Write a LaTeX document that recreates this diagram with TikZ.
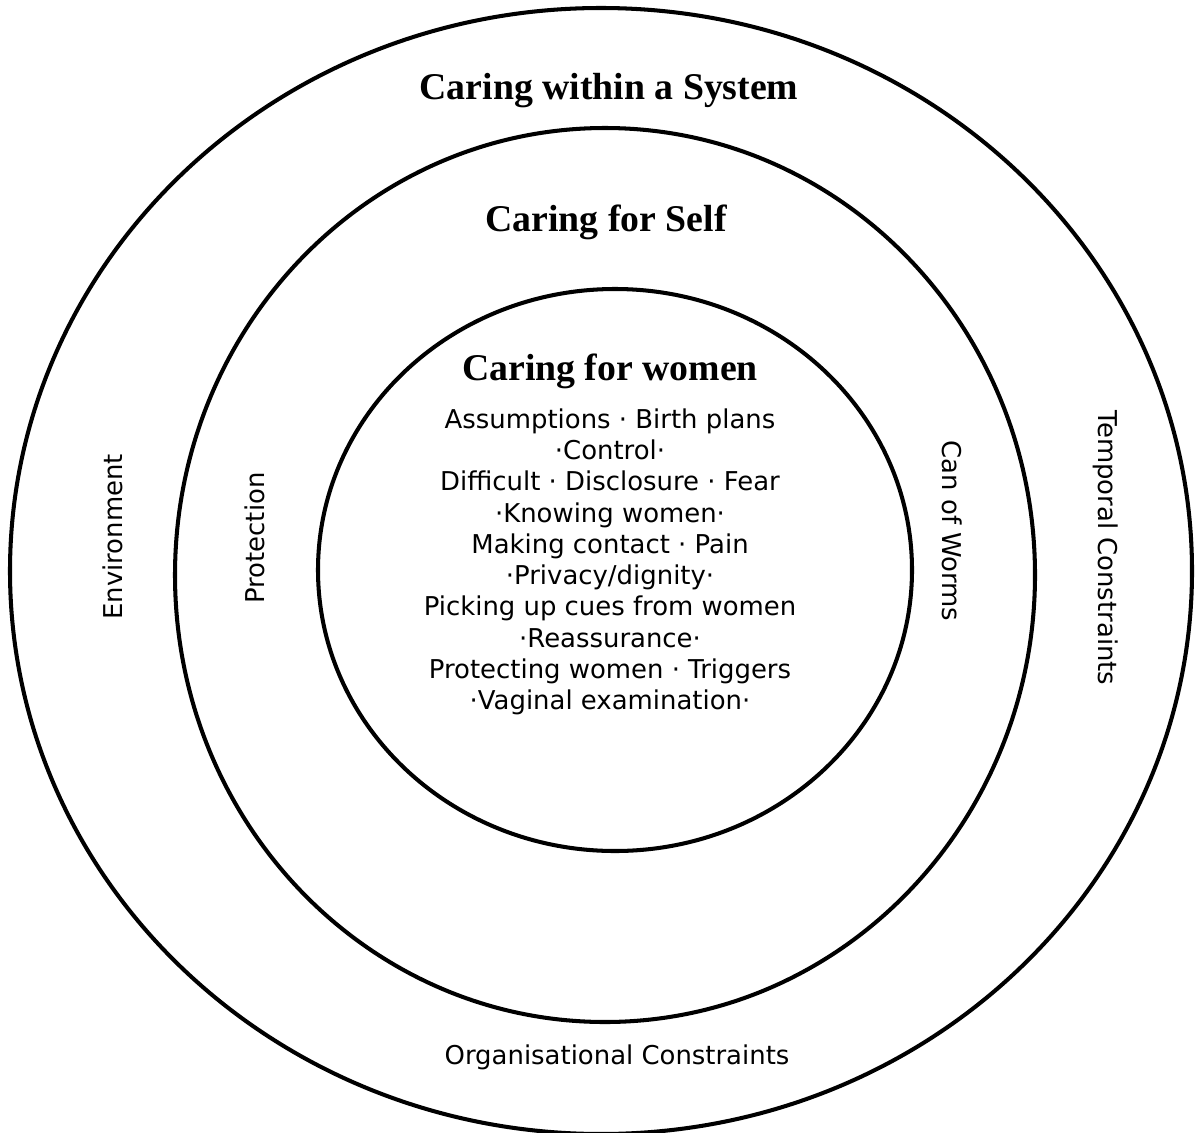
\documentclass[tikz,border=0pt]{standalone}
\usepackage{fontspec}
\setmainfont{Liberation Serif}
\setsansfont{DejaVu Sans}
\usepackage{tikz}
\usetikzlibrary{positioning}

\tikzset{
    ring/.style={line width=2.3pt},
    title/.style={font=\fontsize{21.5}{24}\selectfont\bfseries, inner sep=0pt},
    theme/.style={font=\sffamily\fontsize{14.75}{17.8}\selectfont, inner sep=0pt},
}

\begin{document}
\begin{tikzpicture}[x=0.02cm,y=-0.02cm]
    \useasboundingbox (0,0) rectangle (1196,1132);
    % the three rings
    \draw[ring] (601,571) ellipse [x radius=591, y radius=563];
    \draw[ring] (605,575) ellipse [x radius=430, y radius=447];
    \draw[ring] (615,570) ellipse [x radius=297, y radius=281];
    % ring titles
    \node[title] (system) at (609,91) {Caring within a System};
    \node[title] (self) at (606,222) {Caring for Self};
    \node[title] (women) at (610,371) {Caring for women};
    % themes inside the centre
    \node[theme, align=center, below=11pt of women] (themes) {%
        Assumptions · Birth plans\\
        ·Control·\\
        Difficult · Disclosure · Fear\\
        ·Knowing women·\\
        Making contact · Pain\\
        ·Privacy/dignity·\\
        Picking up cues from women\\
        ·Reassurance·\\
        Protecting women · Triggers\\
        ·Vaginal examination·};
    % labels along the rings
    \node[theme, rotate=90] (env) at (113,537) {Environment};
    \node[theme, rotate=90] (prot) at (255,538) {Protection};
    \node[theme, rotate=-90] (worms) at (952,531) {Can of Worms};
    \node[theme, rotate=-90] (temporal) at (1106,548) {Temporal Constraints};
    \node[theme] (org) at (617,1057) {Organisational Constraints};
\end{tikzpicture}
\end{document}
